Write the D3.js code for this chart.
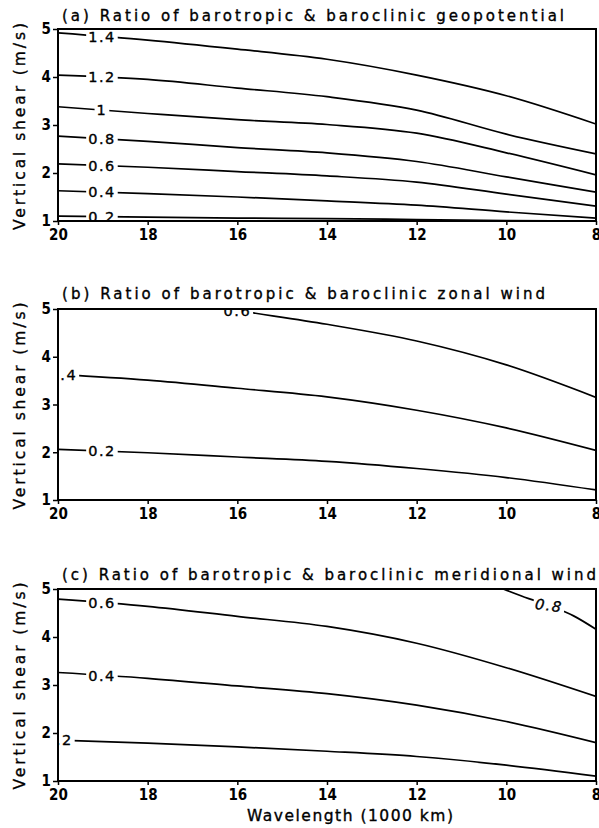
<!DOCTYPE html>
<html><head><meta charset="utf-8">
<script src="https://cdn.jsdelivr.net/npm/d3@7"></script>
<style>body{margin:0;background:#fff}svg{display:block}</style>
</head><body><svg id="c" width="599" height="828"></svg>
<script>
// ---------- data ----------
const wavelengths = [20, 18, 16, 14, 12, 10, 8];
const xTicks = [20, 18, 16, 14, 12, 10, 8];
const yTicks = [1, 2, 3, 4, 5];
const titles = [
  "(a) Ratio of barotropic & baroclinic geopotential",
  "(b) Ratio of barotropic & baroclinic zonal wind",
  "(c) Ratio of barotropic & baroclinic meridional wind"
];
const yAxisTitle = "Vertical shear (m/s)";
const xAxisTitle = "Wavelength (1000 km)";

// (a) geopotential ratio contours: vertical shear at each wavelength
const geoLevels = ["0.2", "0.4", "0.6", "0.8", "1", "1.2", "1.4"];
const geo02 = [1.10, 1.08, 1.06, 1.05, 1.03, 1.01, 1.00];
const geo04 = [1.63, 1.57, 1.50, 1.42, 1.33, 1.19, 1.06];
const geo06 = [2.19, 2.12, 2.03, 1.94, 1.81, 1.56, 1.31];
const geo08 = [2.77, 2.66, 2.53, 2.42, 2.24, 1.92, 1.60];
const geo10 = [3.38, 3.24, 3.11, 3.01, 2.83, 2.42, 1.96];
const geo12 = [4.04, 3.95, 3.77, 3.59, 3.31, 2.81, 2.40];
const geo14 = [4.92, 4.77, 4.58, 4.37, 4.04, 3.61, 3.02];
const geoLabelW = [19.02, 19.02, 19.02, 19.02, 19.02, 19.02, 19.02];

// (b) zonal wind ratio contours
const zonLevels = ["0.2", "0.4", "0.6"];
const zon02 = [2.06, 1.99, 1.90, 1.81, 1.66, 1.47, 1.21];
const zon04 = [3.63, 3.51, 3.34, 3.16, 2.88, 2.51, 2.04];
const zon06W = [16.2, 16, 14, 12, 10, 8];
const zon06 = [5.00, 4.97, 4.68, 4.33, 3.83, 3.15];
const zonLabelW = [19.02, 19.88, 16.0];

// (c) meridional wind ratio contours
const merLevels = ["0.2", "0.4", "0.6", "0.8"];
const mer02 = [1.85, 1.79, 1.71, 1.62, 1.51, 1.33, 1.10];
const mer04 = [3.26, 3.14, 2.98, 2.82, 2.58, 2.24, 1.80];
const mer06 = [4.79, 4.64, 4.43, 4.22, 3.87, 3.36, 2.76];
const mer08W = [10.07, 9.5, 9.0, 8.5, 8];
const mer08 = [5.00, 4.80, 4.64, 4.44, 4.16];
const merLabelW = [19.98, 19.02, 19.02, 9.05];

// ---------- build panels ----------
const zip = (ws, vs) => ws.map((w, i) => ({w, v: vs[i]}));
const panels = [
  {title: titles[0], top: 29, bottom: 221, titleY: 21, titleLen: 502, ylabY: 126.5,
   lines: [geo02, geo04, geo06, geo08, geo10, geo12, geo14].map((v, i) => ({
     level: geoLevels[i], pts: zip(wavelengths, v), lw: geoLabelW[i]}))},
  {title: titles[1], top: 309, bottom: 500, titleY: 299, titleLen: 483, ylabY: 406,
   lines: [zip(wavelengths, zon02), zip(wavelengths, zon04), zip(zon06W, zon06)].map((p, i) => ({
     level: zonLevels[i], pts: p, lw: zonLabelW[i]}))},
  {title: titles[2], top: 589, bottom: 781, titleY: 580, titleLen: 534, ylabY: 686,
   lines: [zip(wavelengths, mer02), zip(wavelengths, mer04), zip(wavelengths, mer06), zip(mer08W, mer08)].map((p, i) => ({
     level: merLevels[i], pts: p, lw: merLabelW[i], italic: i === 3}))}
];

const svg = d3.select("#c");
const L = 58, R = 596;
const x = d3.scaleLinear().domain([20, 8]).range([L, R]);
const titleFont = "'DejaVu Sans', sans-serif";
const tickFont = "'DejaVu Sans Condensed','Liberation Sans Narrow','DejaVu Sans',sans-serif";

function interp(pts, w) {
  for (let i = 0; i < pts.length - 1; i++) {
    const a = pts[i], b = pts[i + 1];
    if ((w <= a.w && w >= b.w)) return a.v + (b.v - a.v) * (a.w - w) / (a.w - b.w);
  }
  return pts[0].v;
}

panels.forEach((p, pi) => {
  const y = d3.scaleLinear().domain([1, 5]).range([p.bottom, p.top]);
  const g = svg.append("g");
  const cid = "clip" + pi;
  svg.append("clipPath").attr("id", cid).append("rect")
    .attr("x", L).attr("y", p.top).attr("width", R - L).attr("height", p.bottom - p.top);

  const plot = g.append("g").attr("clip-path", `url(#${cid})`);
  const line = d3.line().x(d => x(d.w)).y(d => y(d.v)).curve(d3.curveMonotoneX);
  plot.selectAll("path.c").data(p.lines).join("path")
    .attr("d", d => line(d.pts)).attr("fill", "none")
    .attr("stroke", "#000").attr("stroke-width", 1.7);

  p.lines.forEach(ln => {
    const lx = x(ln.lw), ly = y(interp(ln.pts, ln.lw));
    const lg = plot.append("g").attr("transform", `translate(${lx},${ly})${ln.italic ? " rotate(8)" : ""}`);
    const t = lg.append("text").text(ln.level)
      .attr("text-anchor", "middle").attr("dy", "0.36em")
      .attr("font-family", titleFont).attr("font-size", 14.5)
      .attr("letter-spacing", 1.5)
      .attr("stroke", "#000").attr("stroke-width", 0.35)
      .attr("font-style", ln.italic ? "italic" : "normal")
      .attr("fill", "#000");
    const bb = t.node().getBBox();
    lg.insert("rect", "text").attr("x", bb.x - 2).attr("y", bb.y + 2)
      .attr("width", bb.width + 4).attr("height", bb.height - 4).attr("fill", "#fff");
  });

  // frame
  g.append("rect").attr("x", L).attr("y", p.top).attr("width", R - L).attr("height", p.bottom - p.top)
    .attr("fill", "none").attr("stroke", "#000").attr("stroke-width", 2);

  // axes
  const xa = g.append("g").attr("transform", `translate(0,${p.bottom})`)
    .call(d3.axisBottom(x).tickValues(xTicks).tickSize(4).tickSizeOuter(0).tickPadding(4).tickFormat(d3.format("d")));
  const ya = g.append("g").attr("transform", `translate(${L},0)`)
    .call(d3.axisLeft(y).tickValues(yTicks).tickSize(5).tickSizeOuter(0).tickPadding(2).tickFormat(d3.format("d")));
  [xa, ya].forEach(a => {
    a.select(".domain").remove();
    a.selectAll("line").attr("stroke", "#000").attr("stroke-width", 1.5);
    a.selectAll("text").attr("font-family", tickFont).attr("font-weight", "bold")
      .attr("font-size", 15).attr("fill", "#000");
  });

  // title
  g.append("text").attr("x", 62).attr("y", p.titleY).text(p.title)
    .attr("font-family", titleFont).attr("font-size", 15)
    .attr("stroke", "#000").attr("stroke-width", 0.35)
    .attr("textLength", p.titleLen).attr("lengthAdjust", "spacing").attr("fill", "#000");

  // y axis title
  g.append("text").attr("transform", `translate(25,${p.ylabY}) rotate(-90)`)
    .attr("text-anchor", "middle").text(yAxisTitle)
    .attr("font-family", titleFont).attr("font-size", 15.5)
    .attr("stroke", "#000").attr("stroke-width", 0.35)
    .attr("textLength", 207).attr("lengthAdjust", "spacing").attr("fill", "#000");
});

svg.append("text").attr("x", 247).attr("y", 821).text(xAxisTitle)
  .attr("font-family", titleFont).attr("font-size", 15.5)
  .attr("stroke", "#000").attr("stroke-width", 0.35)
  .attr("textLength", 206).attr("lengthAdjust", "spacing").attr("fill", "#000");
</script></body></html>
